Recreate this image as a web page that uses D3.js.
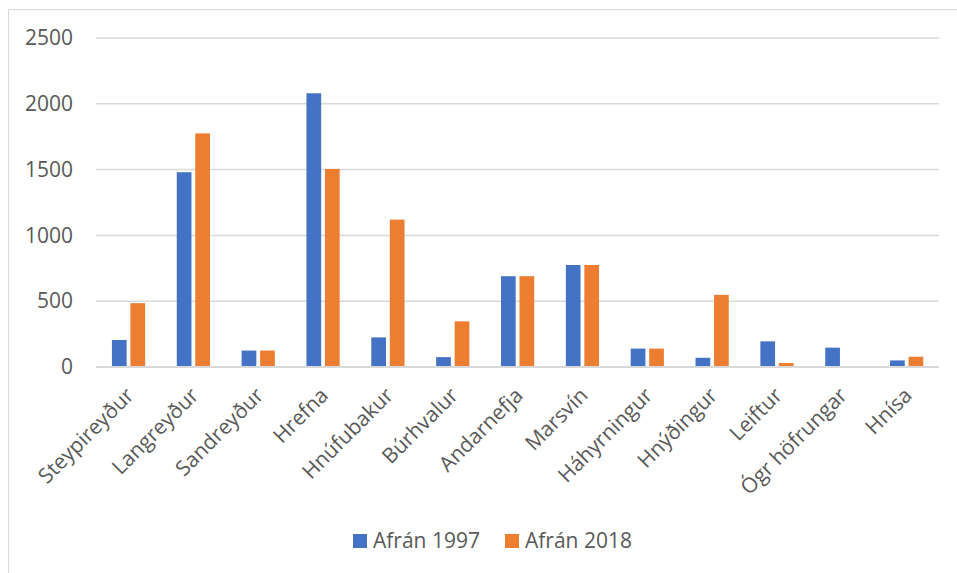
<!DOCTYPE html>
<html>
<head>
<meta charset="utf-8">
<script src="https://cdn.jsdelivr.net/npm/d3@7"></script>
<style>
body{margin:0;background:#fff;}
text{font-family:"Open Sans",sans-serif;fill:#595959;}
</style>
</head>
<body>
<div id="chart"></div>
<script>
var categories=["Steypireyður","Langreyður","Sandreyður","Hrefna","Hnúfubakur","Búrhvalur","Andarnefja","Marsvín","Háhyrningur","Hnýðingur","Leiftur","Ógr höfrungar","Hnísa"];
var afran1997=[205,1480,125,2080,225,75,690,775,140,70,195,147,50];
var afran2018=[485,1775,125,1505,1120,347,690,775,140,548,30,0,78];
var seriesNames=["Afrán 1997","Afrán 2018"];
var seriesColors=["#4472C4","#ED7D31"];
var yTicks=[0,500,1000,1500,2000,2500];

var w=957,h=573;
var pad={top:38,bottom:206,left:96,right:18};

var svg=d3.select("#chart").append("svg")
    .attr("width",w)
    .attr("height",h);

//chart border
svg.append("rect")
    .attr("x",8.5).attr("y",9.5)
    .attr("width",w-8).attr("height",h)
    .attr("fill","none")
    .attr("stroke","#d9d9d9")
    .attr("stroke-width",1);

var xScale=d3.scaleBand()
    .domain(categories)
    .range([pad.left,w-pad.right]);

var yScale=d3.scaleLinear()
    .domain([0,2500])
    .range([h-pad.bottom,pad.top]);

//gridlines
svg.append("g").selectAll("line")
    .data(yTicks.slice(1))
    .enter().append("line")
    .attr("x1",pad.left).attr("x2",w-pad.right)
    .attr("y1",function(d){return yScale(d);})
    .attr("y2",function(d){return yScale(d);})
    .attr("stroke","#d9d9d9")
    .attr("stroke-width",1.5);

//y labels
var yAxis=d3.axisLeft(yScale).tickValues(yTicks).tickFormat(d3.format("d")).tickSize(0).tickPadding(23);
var yg=svg.append("g")
    .attr("transform","translate("+pad.left+",0)")
    .call(yAxis);
yg.select(".domain").remove();
yg.selectAll("text").attr("font-size","21px").attr("fill","#595959").attr("font-family","Open Sans");

//bars
var barW=14.7;
var offsets=[-16.5,2];
[afran1997,afran2018].forEach(function(vals,s){
    svg.append("g").selectAll("rect")
        .data(vals)
        .enter().append("rect")
        .attr("x",function(d,i){return xScale(categories[i])+xScale.bandwidth()/2+offsets[s];})
        .attr("y",function(d){return yScale(d);})
        .attr("width",barW)
        .attr("height",function(d){return yScale(0)-yScale(d);})
        .attr("fill",seriesColors[s]);
});

//baseline
svg.append("line")
    .attr("x1",pad.left).attr("x2",w-pad.right)
    .attr("y1",yScale(0)).attr("y2",yScale(0))
    .attr("stroke","#d9d9d9")
    .attr("stroke-width",2);

//category labels
svg.append("g").selectAll("text")
    .data(categories)
    .enter().append("text")
    .attr("transform",function(d){
        var x=xScale(d)+xScale.bandwidth()/2+1;
        var y=yScale(0)+24;
        return "translate("+x+","+y+")rotate(-45)";
    })
    .attr("text-anchor","end")
    .attr("dominant-baseline","central")
    .attr("font-size","21px")
    .text(function(d){return d;});

//legend
var legX=[353,505];
seriesNames.forEach(function(name,s){
    var g=svg.append("g").attr("transform","translate("+legX[s]+",534)");
    g.append("rect").attr("width",14).attr("height",14).attr("fill",seriesColors[s]);
    g.append("text").attr("x",20).attr("y",14).attr("font-size","21px").text(name);
});
</script>
</body>
</html>
